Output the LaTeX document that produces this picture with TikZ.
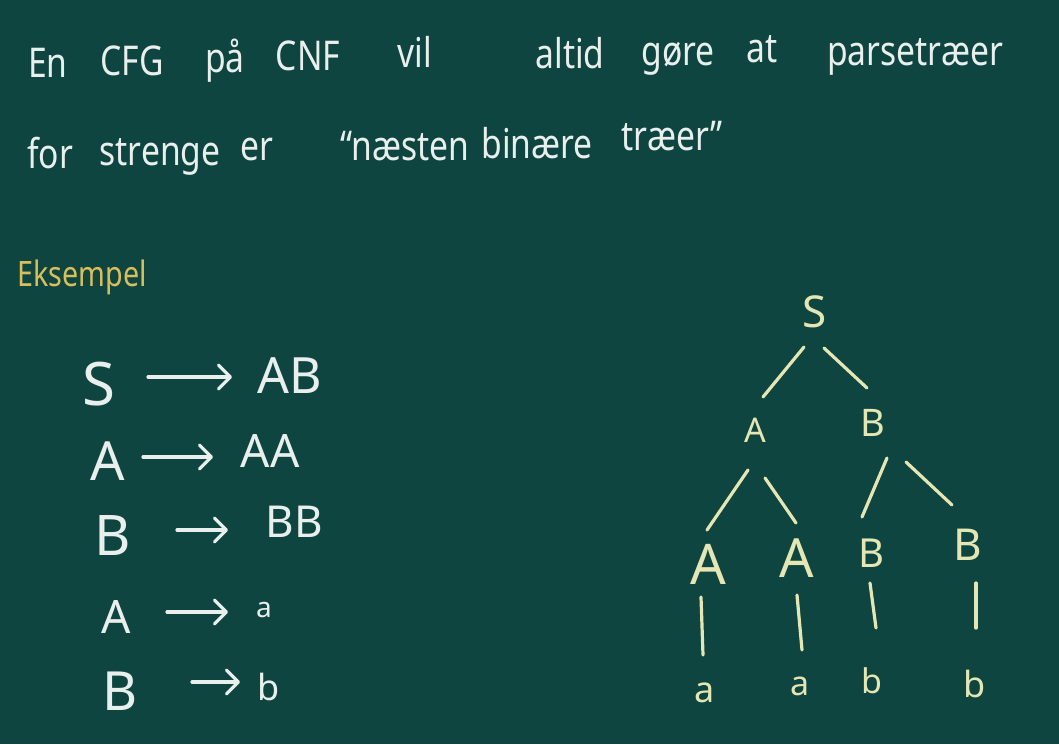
\documentclass[tikz,border=0pt]{standalone}
\usepackage{fontspec}
\setmainfont{Noto Sans}
\usetikzlibrary{arrows.meta,calc}
\definecolor{board}{HTML}{0E4540}
\definecolor{chalk}{HTML}{E9EFEC}
\definecolor{chalkY}{HTML}{D9BE5C}
\definecolor{treeY}{HTML}{E4E6B4}
\newcommand{\fs}[1]{\fontsize{#1}{#1}\selectfont}
\newcommand{\hw}[1]{\scalebox{0.82}[1]{#1}}
\begin{document}
\begin{tikzpicture}[x=1pt,y=-1pt,
  word/.style={anchor=base, inner sep=0pt, text=chalk, font=\fs{41}},
  gsym/.style={anchor=base, inner sep=0pt, text=chalk},
  tsym/.style={anchor=base, inner sep=0pt, text=treeY},
  garrow/.style={draw=chalk, line width=3.2pt, line cap=round, -{Straight Barb[length=12pt,width=24pt,round]}},
  tedge/.style={draw=treeY, line width=3.2pt, line cap=round}]
\fill[board] (0,0) rectangle (1059,744);
\useasboundingbox (0,0) rectangle (1059,744);
% heading, line 1
\node[word] (w1) at (48,77) {\hw{En}};
\node[word] (w2) at (132,75) {\hw{CFG}};
\node[word] (w3) at (225,72) {\hw{på}};
\node[word] (w4) at (308,70) {\hw{CNF}};
\node[word] (w5) at (415,67) {\hw{vil}};
\node[word] (w6) at (570,68) {\hw{altid}};
\node[word] (w7) at (678,65) {\hw{gøre}};
\node[word] (w8) at (762,62) {\hw{at}};
\node[word] (w9) at (915,65) {\hw{parsetræer}};
% heading, line 2
\node[word] (w10) at (50,168) {\hw{for}};
\node[word] (w11) at (160,165) {\hw{strenge}};
\node[word] (w12) at (257,160) {\hw{er}};
\node[word] (w13) at (405,160) {\hw{“næsten}};
\node[word] (w14) at (537,158) {\hw{binære}};
\node[word] (w15) at (672,150) {\hw{træer”}};
% example label
\node[word, text=chalkY, font=\fs{35}] (eks) at (82,286) {\hw{Eksempel}};
% grammar
\node[gsym, font=\fs{60}] (l1) at (99,405) {S};
\node[gsym, font=\fs{50}] (r1) at (290,393) {AB};
\node[gsym, font=\fs{54}] (l2) at (108,480) {A};
\node[gsym, font=\fs{46}] (r2) at (270,467) {AA};
\node[gsym, font=\fs{56}] (l3) at (113,555) {B};
\node[gsym, font=\fs{44}] (r3) at (294,537) {BB};
\node[gsym, font=\fs{46}] (l4) at (116,633) {A};
\node[gsym, font=\fs{28}] (r4) at (264,617) {a};
\node[gsym, font=\fs{54}] (l5) at (120,710) {B};
\node[gsym, font=\fs{36}] (r5) at (269,700) {b};
\draw[garrow] ($(l1.base)+(49,-28)$) -- ($(r1.base)+(-58,-16)$);
\draw[garrow] ($(l2.base)+(35,-23)$) -- ($(r2.base)+(-57,-10)$);
\draw[garrow] ($(l3.base)+(64,-25)$) -- ($(r3.base)+(-66,-7)$);
\draw[garrow] ($(l4.base)+(51,-21)$) -- ($(r4.base)+(-36,-5)$);
\draw[garrow] ($(l5.base)+(72,-28)$) -- ($(r5.base)+(-29,-18)$);
% parse tree
\node[tsym, font=\fs{44}] (s) at (815,327) {S};
\node[tsym, font=\fs{34}] (a1) at (755,442) {A};
\node[tsym, font=\fs{38}] (b1) at (873,436) {B};
\node[tsym, font=\fs{56}] (a2) at (708,584) {A};
\node[tsym, font=\fs{54}] (a3) at (797,577) {A};
\node[tsym, font=\fs{40}] (b2) at (871,567) {B};
\node[tsym, font=\fs{44}] (b3) at (968,560) {B};
\node[tsym, font=\fs{36}] (t1) at (705,702) {a};
\node[tsym, font=\fs{34}] (t2) at (800,695) {a};
\node[tsym, font=\fs{34}] (t3) at (872,693) {b};
\node[tsym, font=\fs{36}] (t4) at (975,697) {b};
\draw[tedge] ($(s.base)+(-11,20)$) -- ($(a1.base)+(8,-45)$);
\draw[tedge] ($(s.base)+(9,21)$) -- ($(b1.base)+(-6,-48)$);
\draw[tedge] ($(a1.base)+(-7,28)$) -- ($(a2.base)+(-1,-54)$);
\draw[tedge] ($(a1.base)+(10,36)$) -- ($(a3.base)+(-1,-54)$);
\draw[tedge] ($(b1.base)+(14,22)$) -- ($(b2.base)+(-9,-50)$);
\draw[tedge] ($(b1.base)+(33,26)$) -- ($(b3.base)+(-16,-55)$);
\draw[tedge] ($(a2.base)+(-7,13)$) -- ($(t1.base)+(-2,-47)$);
\draw[tedge] ($(a3.base)+(0,18)$) -- ($(t2.base)+(2,-45)$);
\draw[tedge] ($(b2.base)+(-1,16)$) -- ($(t3.base)+(4,-65)$);
\draw[tedge] ($(b3.base)+(8,23)$) -- ($(t4.base)+(1,-69)$);
\end{tikzpicture}
\end{document}
